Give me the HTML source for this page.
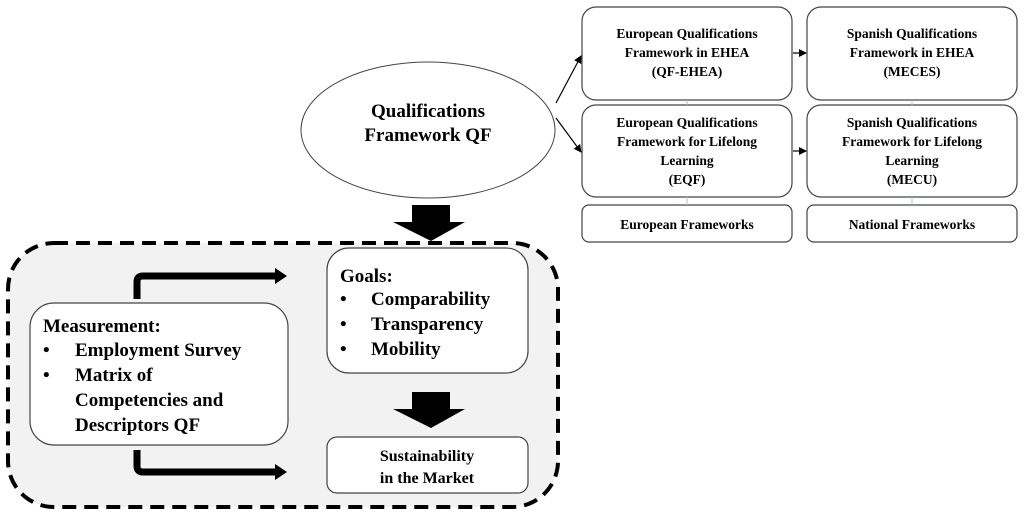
<!DOCTYPE html>
<html><head><meta charset="utf-8"><style>
html,body{margin:0;padding:0;background:#fff;}
svg text{font-family:"Liberation Serif",serif;font-weight:bold;fill:#000;}
</style></head><body>
<svg width="1024" height="516" viewBox="0 0 1024 516" xmlns="http://www.w3.org/2000/svg">
<defs><marker id="a" markerWidth="8" markerHeight="8" refX="7" refY="4" orient="auto" markerUnits="userSpaceOnUse"><path d="M0,0 L8,4 L0,8z" fill="#000"/></marker></defs>
<!-- dashed region -->
<rect x="8" y="243" width="550" height="264" rx="46" fill="#f2f2f2" stroke="#000" stroke-width="4" stroke-dasharray="14,8"/>
<!-- ellipse -->
<ellipse cx="428" cy="130" rx="127" ry="68" fill="#fff" stroke="#444" stroke-width="1"/>
<text x="428" y="117" font-size="19" text-anchor="middle">Qualifications</text>
<text x="428" y="141" font-size="19" text-anchor="middle">Framework QF</text>
<!-- big arrows -->
<path d="M412,205 H450 V222 H465 L431,241 L393,222 H412z" fill="#000"/>
<path d="M412,392 H450 V409 H465 L431,428 L393,409 H412z" fill="#000"/>
<!-- right boxes -->
<g fill="#fff" stroke="#444" stroke-width="1.2">
<rect x="582" y="7" width="210" height="93" rx="14"/>
<rect x="807" y="7" width="210" height="93" rx="14"/>
<rect x="582" y="105" width="210" height="92" rx="14"/>
<rect x="807" y="105" width="210" height="92" rx="14"/>
<rect x="582" y="205" width="210" height="37" rx="7"/>
<rect x="807" y="205" width="210" height="37" rx="7"/>
</g>
<g stroke="#9cc" stroke-width="1"><line x1="687" y1="100" x2="687" y2="105"/><line x1="912" y1="100" x2="912" y2="105"/><line x1="687" y1="197" x2="687" y2="205"/><line x1="912" y1="197" x2="912" y2="205"/></g>
<g font-size="13.5" text-anchor="middle">
<text x="687" y="38">European Qualifications</text>
<text x="687" y="57">Framework in EHEA</text>
<text x="687" y="76">(QF-EHEA)</text>
<text x="912" y="38">Spanish Qualifications</text>
<text x="912" y="57">Framework in EHEA</text>
<text x="912" y="76">(MECES)</text>
<text x="687" y="127">European Qualifications</text>
<text x="687" y="146">Framework for Lifelong</text>
<text x="687" y="165">Learning</text>
<text x="687" y="184">(EQF)</text>
<text x="912" y="127">Spanish Qualifications</text>
<text x="912" y="146">Framework for Lifelong</text>
<text x="912" y="165">Learning</text>
<text x="912" y="184">(MECU)</text>
<text x="687" y="229">European Frameworks</text>
<text x="912" y="229">National Frameworks</text>
</g>
<g stroke="#000" stroke-width="1.2" fill="none">
<line x1="556" y1="103" x2="581" y2="56" marker-end="url(#a)"/>
<line x1="556" y1="118" x2="581" y2="152" marker-end="url(#a)"/>
<line x1="793" y1="53" x2="806" y2="53" marker-end="url(#a)"/>
<line x1="793" y1="151" x2="806" y2="151" marker-end="url(#a)"/>
</g>
<!-- bent arrows -->
<path d="M137,299 V282 Q137,276 143,276 H277" fill="none" stroke="#000" stroke-width="7"/>
<path d="M275,268 L287,276 L275,284z" fill="#000"/>
<path d="M137,450 V466 Q137,472 143,472 H277" fill="none" stroke="#000" stroke-width="7"/>
<path d="M275,464 L287,472 L275,480z" fill="#000"/>
<!-- inner boxes -->
<g fill="#fff" stroke="#444" stroke-width="1.2">
<rect x="327" y="248" width="201" height="125" rx="22"/>
<rect x="30" y="303" width="258" height="142" rx="24"/>
<rect x="327" y="437" width="201" height="56" rx="10"/>
</g>
<g font-size="19">
<text x="340" y="282">Goals:</text>
<text x="340" y="305">•</text><text x="371" y="305">Comparability</text>
<text x="340" y="330">•</text><text x="371" y="330">Transparency</text>
<text x="340" y="355">•</text><text x="371" y="355">Mobility</text>
<text x="43" y="332">Measurement:</text>
<text x="43" y="356">•</text><text x="75" y="356">Employment Survey</text>
<text x="43" y="381">•</text><text x="75" y="381">Matrix of</text>
<text x="75" y="406">Competencies and</text>
<text x="75" y="431">Descriptors QF</text>
</g>
<g font-size="16" text-anchor="middle">
<text x="427" y="461">Sustainability</text>
<text x="427" y="483">in the Market</text>
</g>
</svg>
</body></html>
